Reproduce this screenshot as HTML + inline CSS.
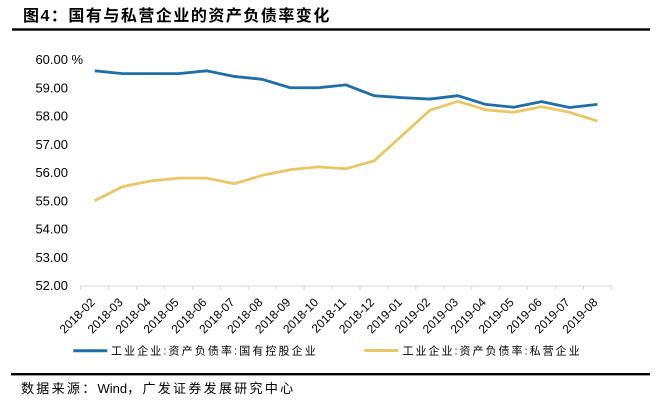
<!DOCTYPE html>
<html><head><meta charset="utf-8"><style>
html,body{margin:0;padding:0;background:#fff;}
svg{display:block;}
</style></head><body>
<svg width="663" height="402" viewBox="0 0 663 402" xmlns="http://www.w3.org/2000/svg">
<rect width="663" height="402" fill="#fff"/>
<text x="23" y="21" font-family="'Liberation Sans','Noto Sans CJK SC',sans-serif" font-size="16" font-weight="bold" letter-spacing="1.5" fill="#000">图4：国有与私营企业的资产负债率变化</text>
<rect x="12" y="28.3" width="638" height="2.4" fill="#000"/>
<g font-family="'Liberation Sans',sans-serif" font-size="13" fill="#000" text-anchor="end">
<text x="68" y="64.2">60.00</text>
<text x="68" y="92.4">59.00</text>
<text x="68" y="120.7">58.00</text>
<text x="68" y="148.9">57.00</text>
<text x="68" y="177.2">56.00</text>
<text x="68" y="205.4">55.00</text>
<text x="68" y="233.7">54.00</text>
<text x="68" y="261.9">53.00</text>
<text x="68" y="290.2">52.00</text>
</g>
<text x="71.5" y="64.2" font-family="'Liberation Sans',sans-serif" font-size="13" fill="#000">%</text>
<line x1="80.7" y1="286" x2="611.4" y2="286" stroke="#d9d9d9" stroke-width="1"/>
<g stroke="#d9d9d9" stroke-width="1">
<line x1="80.7" y1="286" x2="80.7" y2="290"/><line x1="108.6" y1="286" x2="108.6" y2="290"/><line x1="136.6" y1="286" x2="136.6" y2="290"/><line x1="164.5" y1="286" x2="164.5" y2="290"/><line x1="192.4" y1="286" x2="192.4" y2="290"/><line x1="220.4" y1="286" x2="220.4" y2="290"/><line x1="248.3" y1="286" x2="248.3" y2="290"/><line x1="276.2" y1="286" x2="276.2" y2="290"/><line x1="304.1" y1="286" x2="304.1" y2="290"/><line x1="332.1" y1="286" x2="332.1" y2="290"/><line x1="360" y1="286" x2="360" y2="290"/><line x1="387.9" y1="286" x2="387.9" y2="290"/><line x1="415.9" y1="286" x2="415.9" y2="290"/><line x1="443.8" y1="286" x2="443.8" y2="290"/><line x1="471.7" y1="286" x2="471.7" y2="290"/><line x1="499.7" y1="286" x2="499.7" y2="290"/><line x1="527.6" y1="286" x2="527.6" y2="290"/><line x1="555.5" y1="286" x2="555.5" y2="290"/><line x1="583.5" y1="286" x2="583.5" y2="290"/><line x1="611.4" y1="286" x2="611.4" y2="290"/>
</g>
<g font-family="'Liberation Sans',sans-serif" font-size="12" fill="#000" text-anchor="end">
<text transform="translate(95.7,303) rotate(-45)">2018-02</text>
<text transform="translate(123.6,303) rotate(-45)">2018-03</text>
<text transform="translate(151.5,303) rotate(-45)">2018-04</text>
<text transform="translate(179.5,303) rotate(-45)">2018-05</text>
<text transform="translate(207.4,303) rotate(-45)">2018-06</text>
<text transform="translate(235.3,303) rotate(-45)">2018-07</text>
<text transform="translate(263.3,303) rotate(-45)">2018-08</text>
<text transform="translate(291.2,303) rotate(-45)">2018-09</text>
<text transform="translate(319.1,303) rotate(-45)">2018-10</text>
<text transform="translate(347,303) rotate(-45)">2018-11</text>
<text transform="translate(375,303) rotate(-45)">2018-12</text>
<text transform="translate(402.9,303) rotate(-45)">2019-01</text>
<text transform="translate(430.8,303) rotate(-45)">2019-02</text>
<text transform="translate(458.8,303) rotate(-45)">2019-03</text>
<text transform="translate(486.7,303) rotate(-45)">2019-04</text>
<text transform="translate(514.6,303) rotate(-45)">2019-05</text>
<text transform="translate(542.6,303) rotate(-45)">2019-06</text>
<text transform="translate(570.5,303) rotate(-45)">2019-07</text>
<text transform="translate(598.4,303) rotate(-45)">2019-08</text>
</g>
<polyline fill="none" stroke="#e8c767" stroke-width="2.8" stroke-linejoin="round" points="94.7,200.75 122.6,186.6 150.5,181 178.5,178.15 206.4,178.15 234.3,183.8 262.3,175.3 290.2,169.7 318.1,166.85 346,168.8 374,160.9 401.9,135.7 429.8,110.35 457.8,101.3 485.7,109.8 513.6,112.3 541.6,106.7 569.5,112.3 597.4,121.1"/>
<polyline fill="none" stroke="#1f6eaa" stroke-width="2.8" stroke-linejoin="round" points="94.7,70.8 122.6,73.6 150.5,73.6 178.5,73.6 206.4,70.8 234.3,76.45 262.3,79.3 290.2,87.75 318.1,87.75 346,84.9 374,95.7 401.9,97.6 429.8,99.05 457.8,95.7 485.7,104.4 513.6,107.2 541.6,101.6 569.5,107.5 597.4,104.4"/>
<line x1="73.3" y1="350.7" x2="107.3" y2="350.7" stroke="#1f6eaa" stroke-width="3"/>
<text x="111" y="354.6" font-family="'Liberation Sans','Noto Sans CJK SC',sans-serif" font-size="11" letter-spacing="2.1" fill="#000">工业企业:资产负债率:国有控股企业</text>
<line x1="364.3" y1="350.5" x2="398.3" y2="350.5" stroke="#e8c767" stroke-width="3"/>
<text x="402.5" y="354.6" font-family="'Liberation Sans','Noto Sans CJK SC',sans-serif" font-size="11" letter-spacing="2.0" fill="#000">工业企业:资产负债率:私营企业</text>
<rect x="11" y="373" width="639" height="2.4" fill="#000"/>
<text x="21" y="393" font-family="'Liberation Sans','Noto Sans CJK SC',sans-serif" font-size="13" fill="#000"><tspan letter-spacing="2.3">数据来源：</tspan><tspan letter-spacing="0">Wind</tspan><tspan letter-spacing="2.3">，广发证券发展研究中心</tspan></text>
</svg>
</body></html>
